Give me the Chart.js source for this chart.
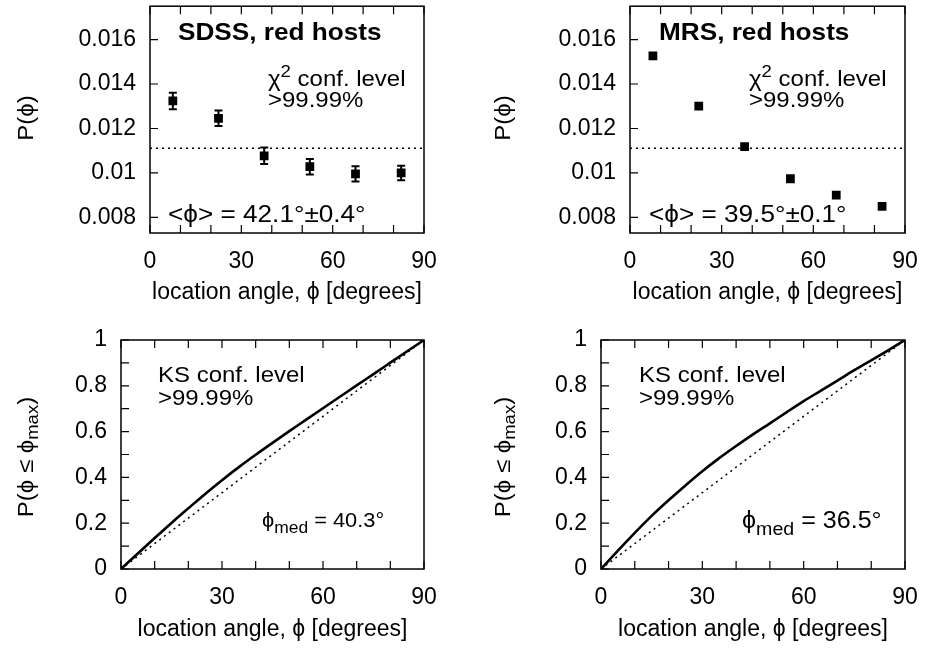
<!DOCTYPE html>
<html>
<head>
<meta charset="utf-8">
<script src="https://cdn.jsdelivr.net/npm/chart.js@4.4.0/dist/chart.umd.min.js"></script>
<style>
  html, body { margin: 0; padding: 0; background: #fff; }
  #wrap { position: relative; width: 926px; height: 651px; }
  .panel { position: absolute; }
  canvas { display: block; }
</style>
</head>
<body>
<div id="wrap">
  <div class="panel" style="left:0;top:0"><canvas id="c-sdss" width="463" height="320"></canvas></div>
  <div class="panel" style="left:463px;top:0"><canvas id="c-mrs" width="463" height="320"></canvas></div>
  <div class="panel" style="left:0;top:320px"><canvas id="c-sdss-cdf" width="463" height="331"></canvas></div>
  <div class="panel" style="left:463px;top:320px"><canvas id="c-mrs-cdf" width="463" height="331"></canvas></div>
</div>
<script>
(function () {
  "use strict";

  // binned location-angle distribution, P(phi)
  const angleBins = [7.5, 22.5, 37.5, 52.5, 67.5, 82.5];
  const sdssP = [0.01324, 0.01246, 0.01077, 0.01028, 0.00996, 0.01000];
  const sdssErr = [0.00037, 0.00035, 0.00037, 0.00035, 0.00034, 0.00033];
  const mrsP = [0.01527, 0.01301, 0.01118, 0.00974, 0.00900, 0.00850];
  const uniformX = [0, 90];
  const uniformP = [0.01111, 0.01111];

  // cumulative distributions P(phi <= phi_max)
  const cdfX = [0, 5, 10, 15, 20, 25, 30, 35, 40, 45, 50, 55, 60, 65, 70, 75, 80, 85, 90];
  const sdssCdf = [0, 0.068, 0.135, 0.201, 0.265, 0.328, 0.388, 0.445, 0.499, 0.551,
                   0.602, 0.652, 0.702, 0.752, 0.802, 0.851, 0.901, 0.951, 1];
  const mrsCdf = [0, 0.080, 0.158, 0.232, 0.300, 0.365, 0.427, 0.484, 0.537, 0.588,
                  0.636, 0.685, 0.733, 0.778, 0.823, 0.868, 0.911, 0.955, 1];
  const uniformCdfX = [0, 90];
  const uniformCdf = [0, 1];

  // ticks
  const xTicks = [0, 10, 20, 30, 40, 50, 60, 70, 80, 90];
  const xLabels = [0, 30, 60, 90];
  const pTicks = [0.008, 0.010, 0.012, 0.014, 0.016];
  const pLabels = ["0.008", "0.01", "0.012", "0.014", "0.016"];
  const cdfTicks = [0, 0.1, 0.2, 0.3, 0.4, 0.5, 0.6, 0.7, 0.8, 0.9, 1];
  const cdfLabelVals = [0, 0.2, 0.4, 0.6, 0.8, 1];
  const cdfLabels = ["0", "0.2", "0.4", "0.6", "0.8", "1"];

  const FAMILY = "'Liberation Sans', Arial, Helvetica, sans-serif";
  const BLACK = "#000";
  const HSCALE = 1.09; // gnuplot text is a little wider than Liberation Sans

  const pts = (xs, ys) => xs.map((x, i) => ({ x, y: ys[i] }));

  // draw text made of normal / sup / sub pieces
  function drawRich(ctx, parts, x, y, size, bold, align) {
    const fontFor = (k) => (bold ? "bold " : "") + (k === "n" ? size : Math.round(size * 0.78)) + "px " + FAMILY;
    let total = 0;
    parts.forEach(([t, k]) => { ctx.font = fontFor(k); total += ctx.measureText(t).width; });
    ctx.save();
    ctx.translate(x, y);
    ctx.scale(HSCALE, 1);
    let cx = align === "center" ? -total / 2 : 0;
    parts.forEach(([t, k]) => {
      ctx.font = fontFor(k);
      const dy = k === "sup" ? -0.42 * size : k === "sub" ? 0.3 * size : 0;
      ctx.fillText(t, cx, dy);
      cx += ctx.measureText(t).width;
    });
    ctx.restore();
  }

  const framePlugin = {
    id: "frame",
    afterDatasetsDraw(chart, args, opts) {
      const { ctx, chartArea: a, scales } = chart;
      ctx.save();
      ctx.strokeStyle = BLACK;
      ctx.lineWidth = 1.5;
      ctx.strokeRect(a.left, a.top, a.right - a.left, a.bottom - a.top);
      ctx.lineWidth = 1.2;
      ctx.beginPath();
      scales.x.ticks.forEach((t) => {
        const px = scales.x.getPixelForValue(t.value);
        ctx.moveTo(px, a.bottom); ctx.lineTo(px, a.bottom - 8);
        ctx.moveTo(px, a.top); ctx.lineTo(px, a.top + 8);
      });
      scales.y.ticks.forEach((t) => {
        const py = scales.y.getPixelForValue(t.value);
        ctx.moveTo(a.left, py); ctx.lineTo(a.left + 8, py);
      });
      ctx.stroke();

      const err = opts.err;
      if (err) {
        ctx.lineWidth = 2;
        ctx.beginPath();
        err.x.forEach((xv, i) => {
          const px = scales.x.getPixelForValue(xv);
          const lo = scales.y.getPixelForValue(err.y[i] - err.e[i]);
          const hi = scales.y.getPixelForValue(err.y[i] + err.e[i]);
          ctx.moveTo(px, lo); ctx.lineTo(px, hi);
          ctx.moveTo(px - 4, lo); ctx.lineTo(px + 4, lo);
          ctx.moveTo(px - 4, hi); ctx.lineTo(px + 4, hi);
        });
        ctx.stroke();
      }
      ctx.restore();
    },
    afterDraw(chart, args, opts) {
      const ctx = chart.ctx;
      ctx.save();
      ctx.fillStyle = BLACK;
      ctx.textBaseline = "alphabetic";
      (opts.texts || []).forEach((t) => drawRich(ctx, t.parts, t.x, t.y, t.size, t.bold, "left"));
      if (opts.yTitle) {
        ctx.translate(opts.yTitle.x, opts.yTitle.y);
        ctx.rotate(-Math.PI / 2);
        ctx.textBaseline = "middle";
        drawRich(ctx, opts.yTitle.parts, 0, 0, 22, false, "center");
      }
      ctx.restore();
    },
  };

  function makePanel(id, o) {
    const W = 463, H = o.h, A = o.area;
    const tickFont = { family: FAMILY, size: 23 };
    new Chart(document.getElementById(id), {
      type: "scatter",
      data: { datasets: o.datasets },
      options: {
        responsive: false,
        animation: false,
        devicePixelRatio: 1,
        layout: { padding: { left: 0, top: A.t, right: W - A.r, bottom: 0 } },
        plugins: {
          legend: { display: false },
          tooltip: { enabled: false },
          frame: { err: o.err, texts: o.texts, yTitle: o.yTitle },
        },
        scales: {
          x: {
            type: "linear", min: 0, max: 90,
            afterBuildTicks: (s) => { s.ticks = xTicks.map((v) => ({ value: v })); },
            afterFit: (s) => { s.height = H - A.b; s.paddingLeft = 0; s.paddingRight = 0; },
            grid: { display: false, drawTicks: false },
            border: { display: false },
            ticks: {
              autoSkip: false, maxRotation: 0, padding: 15, color: BLACK, font: tickFont,
              callback: (v) => (xLabels.includes(v) ? String(v) : ""),
            },
            title: {
              display: true, text: "location angle, ϕ [degrees]", color: BLACK,
              font: tickFont, padding: { top: 0, bottom: o.xTitlePad },
            },
          },
          y: {
            type: "linear", min: o.yMin, max: o.yMax,
            afterBuildTicks: (s) => { s.ticks = o.yTicks.map((v) => ({ value: v })); },
            afterFit: (s) => { s.width = A.l; s.paddingTop = 0; s.paddingBottom = 0; },
            grid: { display: false, drawTicks: false },
            border: { display: false },
            ticks: {
              autoSkip: false, padding: 14, color: BLACK, font: tickFont,
              callback: (v) => {
                const i = o.yLabelVals.indexOf(v);
                return i >= 0 ? o.yLabels[i] : "";
              },
            },
          },
        },
      },
      plugins: [framePlugin],
    });
  }

  const dotted = (data) => ({
    data, showLine: true, borderColor: BLACK, borderWidth: 1.5,
    borderDash: [2, 4], pointRadius: 0, fill: false,
  });
  const squares = (data) => ({
    data, showLine: false, pointStyle: "rect", pointRadius: 6.2,
    backgroundColor: BLACK, borderColor: BLACK, borderWidth: 0,
  });
  const solid = (data) => ({
    data, showLine: true, borderColor: BLACK, borderWidth: 2.6,
    pointRadius: 0, fill: false, cubicInterpolationMode: "monotone",
  });

  const chiParts = [["χ", "n"], ["2", "sup"], [" conf. level", "n"]];
  const pTitle = [["P(ϕ)", "n"]];
  const cdfTitle = [["P(ϕ ≤ ϕ", "n"], ["max", "sub"], [")", "n"]];

  makePanel("c-sdss", {
    h: 320, area: { l: 150, r: 424, t: 4, b: 233 },
    yMin: 0.0073, yMax: 0.0175, yTicks: pTicks, yLabelVals: pTicks, yLabels: pLabels,
    xTitlePad: 14,
    datasets: [squares(pts(angleBins, sdssP)), dotted(pts(uniformX, uniformP))],
    err: { x: angleBins, y: sdssP, e: sdssErr },
    yTitle: { x: 27, y: 118, parts: pTitle },
    texts: [
      { parts: [["SDSS, red hosts", "n"]], x: 178, y: 40, size: 24, bold: true },
      { parts: chiParts, x: 268, y: 86, size: 22 },
      { parts: [[">99.99%", "n"]], x: 268, y: 107, size: 22 },
      { parts: [["<ϕ> = 42.1°±0.4°", "n"]], x: 168, y: 222, size: 24 },
    ],
  });

  makePanel("c-mrs", {
    h: 320, area: { l: 167, r: 442, t: 4, b: 233 },
    yMin: 0.0073, yMax: 0.0175, yTicks: pTicks, yLabelVals: pTicks, yLabels: pLabels,
    xTitlePad: 14,
    datasets: [squares(pts(angleBins, mrsP)), dotted(pts(uniformX, uniformP))],
    yTitle: { x: 41, y: 118, parts: pTitle },
    texts: [
      { parts: [["MRS, red hosts", "n"]], x: 196, y: 40, size: 24, bold: true },
      { parts: chiParts, x: 286, y: 86, size: 22 },
      { parts: [[">99.99%", "n"]], x: 286, y: 107, size: 22 },
      { parts: [["<ϕ> = 39.5°±0.1°", "n"]], x: 186, y: 222, size: 24 },
    ],
  });

  makePanel("c-sdss-cdf", {
    h: 331, area: { l: 121, r: 424, t: 20, b: 249 },
    yMin: 0, yMax: 1, yTicks: cdfTicks, yLabelVals: cdfLabelVals, yLabels: cdfLabels,
    xTitlePad: 8,
    datasets: [solid(pts(cdfX, sdssCdf)), dotted(pts(uniformCdfX, uniformCdf))],
    yTitle: { x: 27, y: 137, parts: cdfTitle },
    texts: [
      { parts: [["KS conf. level", "n"]], x: 158, y: 62, size: 22 },
      { parts: [[">99.99%", "n"]], x: 158, y: 85, size: 22 },
      { parts: [["ϕ", "n"], ["med", "sub"], [" = 40.3°", "n"]], x: 262, y: 207, size: 20 },
    ],
  });

  makePanel("c-mrs-cdf", {
    h: 331, area: { l: 138, r: 442, t: 20, b: 249 },
    yMin: 0, yMax: 1, yTicks: cdfTicks, yLabelVals: cdfLabelVals, yLabels: cdfLabels,
    xTitlePad: 8,
    datasets: [solid(pts(cdfX, mrsCdf)), dotted(pts(uniformCdfX, uniformCdf))],
    yTitle: { x: 41, y: 137, parts: cdfTitle },
    texts: [
      { parts: [["KS conf. level", "n"]], x: 176, y: 62, size: 22 },
      { parts: [[">99.99%", "n"]], x: 176, y: 85, size: 22 },
      { parts: [["ϕ", "n"], ["med", "sub"], [" = 36.5°", "n"]], x: 279, y: 208, size: 23 },
    ],
  });
})();
</script>
</body>
</html>
